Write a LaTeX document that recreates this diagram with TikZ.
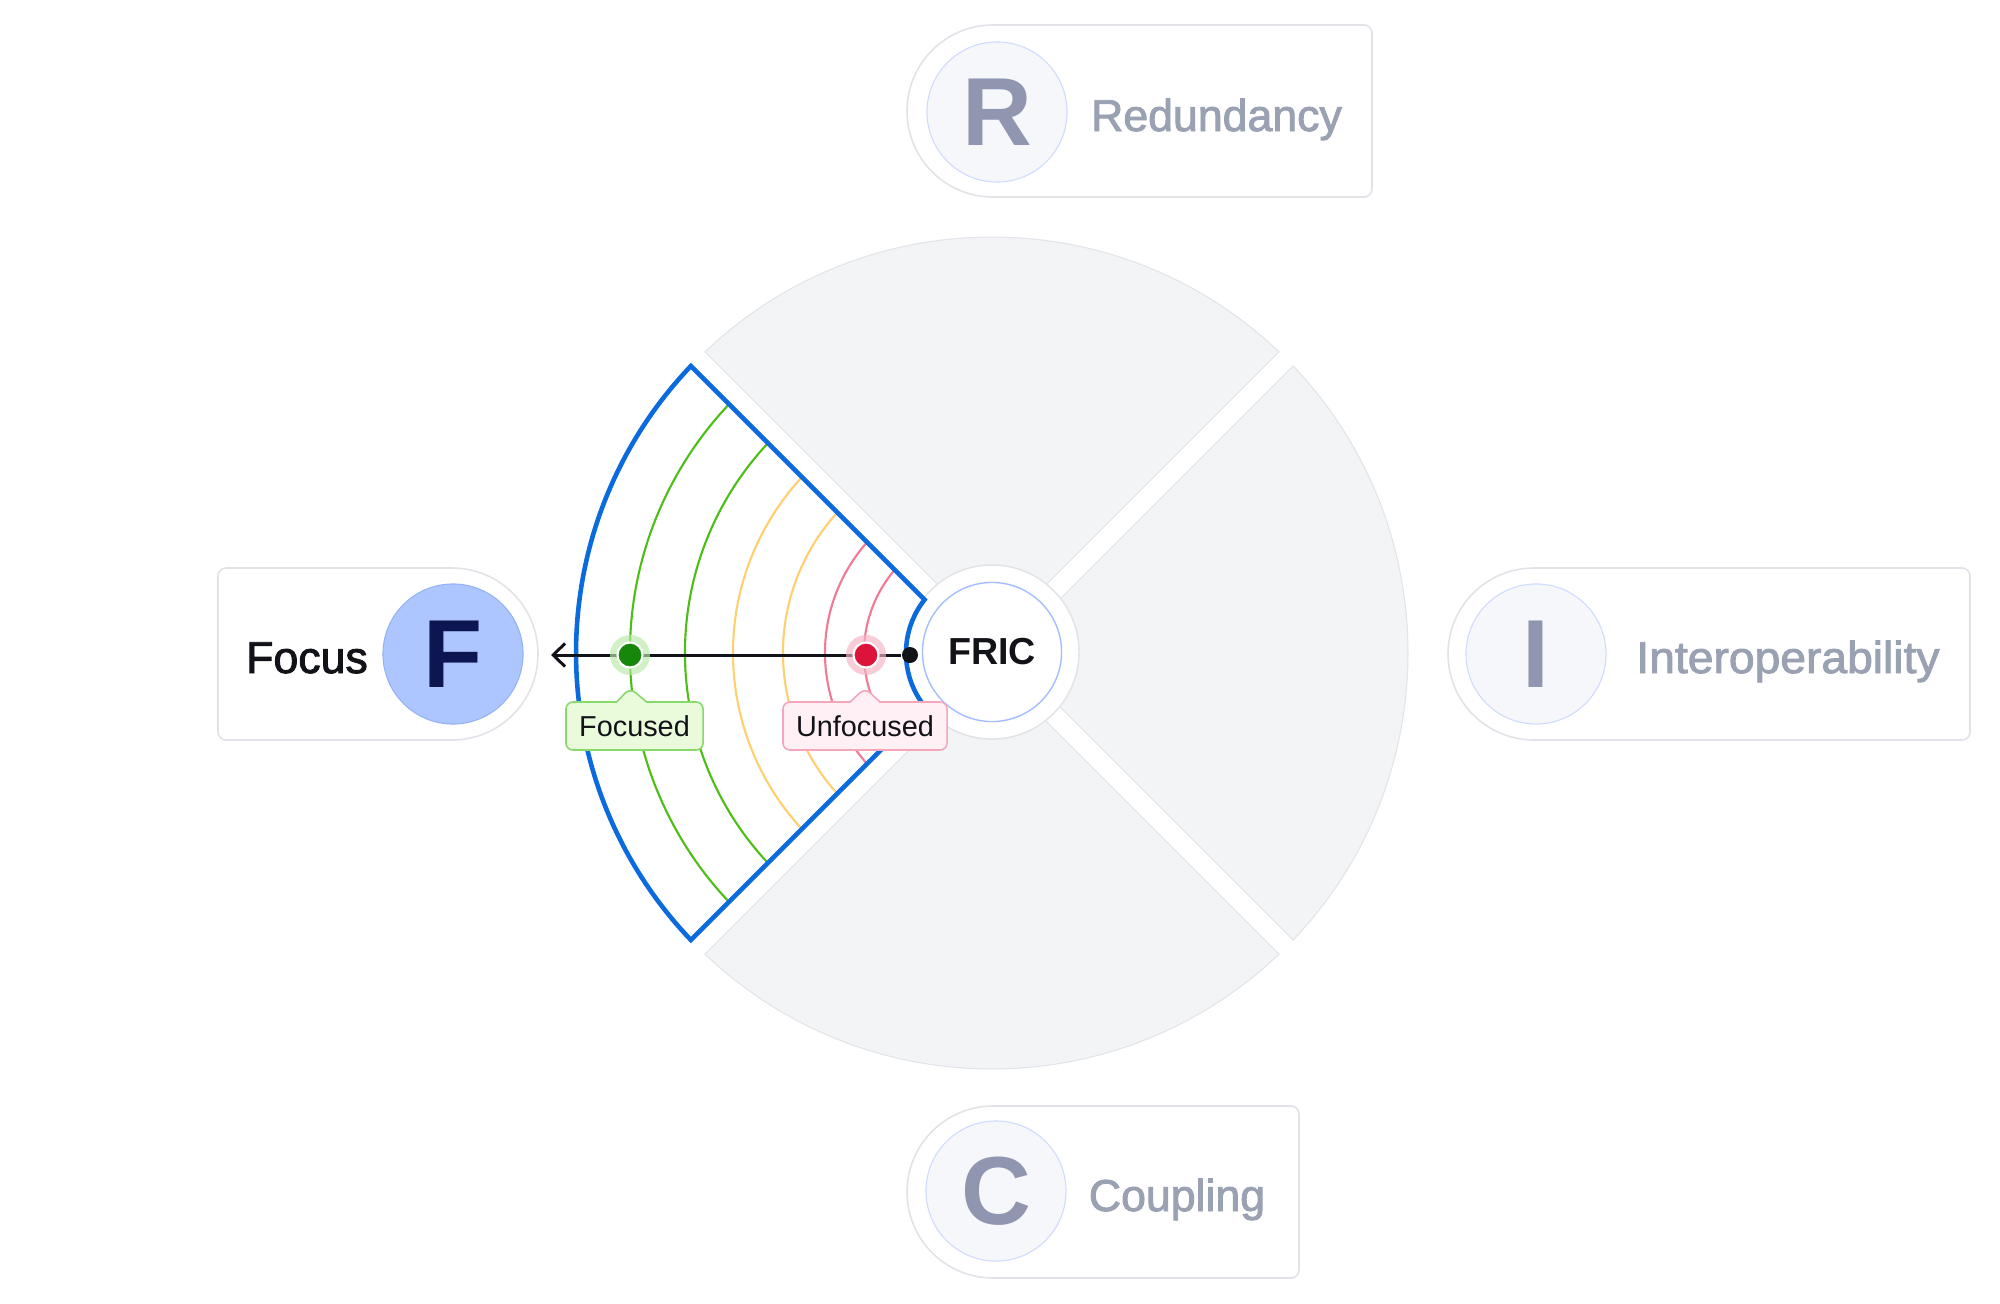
\documentclass[tikz,border=0pt]{standalone}
\usepackage{fontspec}
\setmainfont{Liberation Sans}
\newfontfamily\medfont[FakeBold=2]{Liberation Sans}
\usetikzlibrary{arrows.meta,shapes.callouts}

\definecolor{sectgrey}{HTML}{F3F4F6}
\definecolor{sectline}{HTML}{E1E4E9}
\definecolor{badgeline}{HTML}{E1E3E8}
\definecolor{fblue}{HTML}{0B6BDE}
\definecolor{arcgreen}{HTML}{4DBE16}
\definecolor{arcyellow}{HTML}{FFCF70}
\definecolor{arcred}{HTML}{F27A93}
\definecolor{fcirc}{HTML}{AEC6FF}
\definecolor{fcircline}{HTML}{93B2F7}
\definecolor{navy}{HTML}{0D1650}
\definecolor{lettergrey}{HTML}{9196B0}
\definecolor{lblgrey}{HTML}{9AA1B2}
\definecolor{circgrey}{HTML}{F6F7FA}
\definecolor{circline}{HTML}{CFDAFF}
\definecolor{fricline}{HTML}{A5BEFF}
\definecolor{ink}{HTML}{111318}
\definecolor{gfill}{HTML}{EAFBDC}
\definecolor{gline}{HTML}{86D96A}
\definecolor{gdot}{HTML}{17870C}
\definecolor{ghalo}{HTML}{B9E9A6}
\definecolor{rfill}{HTML}{FFF0F5}
\definecolor{rline}{HTML}{F5A6BA}
\definecolor{rdot}{HTML}{DC143C}
\definecolor{rhalo}{HTML}{F7B3C4}

% annular sector with parallel-offset straight edges (gap), mid angle #1
\newcommand{\sectorpath}[1]{({#1-45+1.377}:416) arc[start angle={#1-45+1.377}, end angle={#1+45-1.377}, radius=416] -- ({#1+45-6.637}:86) arc[start angle={#1+45-6.637}, end angle={#1-45+6.637}, radius=86] -- cycle}

\tikzset{
  greysector/.style={fill=sectgrey, draw=sectline, line width=0.3pt},
  bluesector/.style={draw=fblue, line width=1.3pt, line join=miter},
  arcG/.style={draw=arcgreen, line width=0.6pt},
  arcY/.style={draw=arcyellow, line width=0.6pt},
  arcR/.style={draw=arcred, line width=0.6pt},
  badge/.style={fill=white, draw=badgeline, line width=0.45pt},
  lettercirc/.style={circle, minimum size=1.40cm, inner sep=0pt, fill=circgrey, draw=circline, line width=0.3pt, text=lettergrey, font=\bfseries\fontsize{27.5}{30}\selectfont},
  lbltext/.style={anchor=base, inner sep=0pt, text=lblgrey, font=\medfont\fontsize{12.7}{14}\selectfont},
  fric/.style={circle, minimum size=1.39cm, inner sep=0pt, fill=white, draw=fricline, line width=0.4pt, text=ink, font=\bfseries\fontsize{10.7}{12}\selectfont},
  dotblack/.style={circle, fill=ink, minimum size=0.16cm, inner sep=0pt},
  gdotstyle/.style={circle, fill=gdot, draw=white, line width=0.6pt, minimum size=0.25cm, inner sep=0pt},
  rdotstyle/.style={circle, fill=rdot, draw=white, line width=0.6pt, minimum size=0.25cm, inner sep=0pt},
  arrowline/.style={draw=ink, line width=0.85pt, -{Straight Barb[length=3.4pt, width=6.6pt]}},
  callbase/.style={rectangle callout, line width=0.45pt, rounded corners=0.07cm, minimum height=0.48cm, inner sep=0pt, text=ink, font=\fontsize{8.2}{9}\selectfont, callout pointer width=0.3cm},
  gcallout/.style={callbase, fill=gfill, draw=gline, minimum width=1.37cm},
  rcallout/.style={callbase, fill=rfill, draw=rline, minimum width=1.64cm}
}

\begin{document}
\begin{tikzpicture}[x=0.01cm, y=-0.01cm]
\fill[white] (0,0) rectangle (2000,1303);
\useasboundingbox (0,0) rectangle (2000,1303);

% ---- wheel ----
\begin{scope}[shift={(992,653)}]
  \foreach \m in {0,90,270} { \path[greysector] \sectorpath{\m}; }
  \path[fill=white, draw=badgeline, line width=0.4pt] (0,-1) circle[radius=87];
  \path[fill=white] \sectorpath{180};
  \begin{scope}
    \clip \sectorpath{180};
    \draw[arcG] (120:362) arc[start angle=120, end angle=240, radius=362];
    \draw[arcG] (120:307) arc[start angle=120, end angle=240, radius=307];
    \draw[arcY] (120:259) arc[start angle=120, end angle=240, radius=259];
    \draw[arcY] (120:209) arc[start angle=120, end angle=240, radius=209];
    \draw[arcR] (120:167) arc[start angle=120, end angle=240, radius=167];
    \draw[arcR] (120:128) arc[start angle=120, end angle=240, radius=128];
  \end{scope}
  \draw[bluesector] \sectorpath{180};
\end{scope}

\node[fric] (fric) at (992,652) {FRIC};

% ---- arrow and markers ----
\node[dotblack] (start) at (910,655) {};
\coordinate (arrowend) at (551,655);
\draw[arrowline] (start) -- (arrowend);

\fill[ghalo, opacity=0.65] (630,655) circle[radius=20];
\fill[rhalo, opacity=0.65] (866,655) circle[radius=20];
\node[gdotstyle] (focdot) at (630,655) {};
\node[rdotstyle] (unfdot) at (866,655) {};

\node[gcallout, callout absolute pointer={(630,688)}] (focused) at (634.5,726) {Focused};
\node[rcallout, callout absolute pointer={(865,688)}] (unfocused) at (865,726) {Unfocused};

% ---- Focus badge ----
\path[badge] (452,568) -- (226,568) arc[start angle=270, end angle=180, radius=8] -- (218,732) arc[start angle=180, end angle=90, radius=8] -- (452,740) arc[start angle=90, end angle=-90, radius=86] -- cycle;
\node[lettercirc, fill=fcirc, draw=fcircline, text=navy] (fcircle) at (453,654) {F};
\node[lbltext, text=ink] (focuslbl) at (307,673) {Focus};

% ---- Redundancy badge ----
\path[badge] (993,25) -- (1364,25) arc[start angle=-90, end angle=0, radius=8] -- (1372,189) arc[start angle=0, end angle=90, radius=8] -- (993,197) arc[start angle=90, end angle=270, radius=86] -- cycle;
\node[lettercirc] (rcircle) at (997,112) {R};
\node[lbltext] (redlbl) at (1216.5,131) {Redundancy};

% ---- Interoperability badge ----
\path[badge] (1534,568) -- (1962,568) arc[start angle=-90, end angle=0, radius=8] -- (1970,732) arc[start angle=0, end angle=90, radius=8] -- (1534,740) arc[start angle=90, end angle=270, radius=86] -- cycle;
\node[lettercirc] (icircle) at (1536,654) {I};
\node[lbltext] (intlbl) at (1788,673) {\scalebox{1.035}[1]{Interoperability}};

% ---- Coupling badge ----
\path[badge] (993,1106) -- (1291,1106) arc[start angle=-90, end angle=0, radius=8] -- (1299,1270) arc[start angle=0, end angle=90, radius=8] -- (993,1278) arc[start angle=90, end angle=270, radius=86] -- cycle;
\node[lettercirc] (ccircle) at (996,1191) {C};
\node[lbltext] (couplbl) at (1177,1211) {Coupling};
\end{tikzpicture}
\end{document}
